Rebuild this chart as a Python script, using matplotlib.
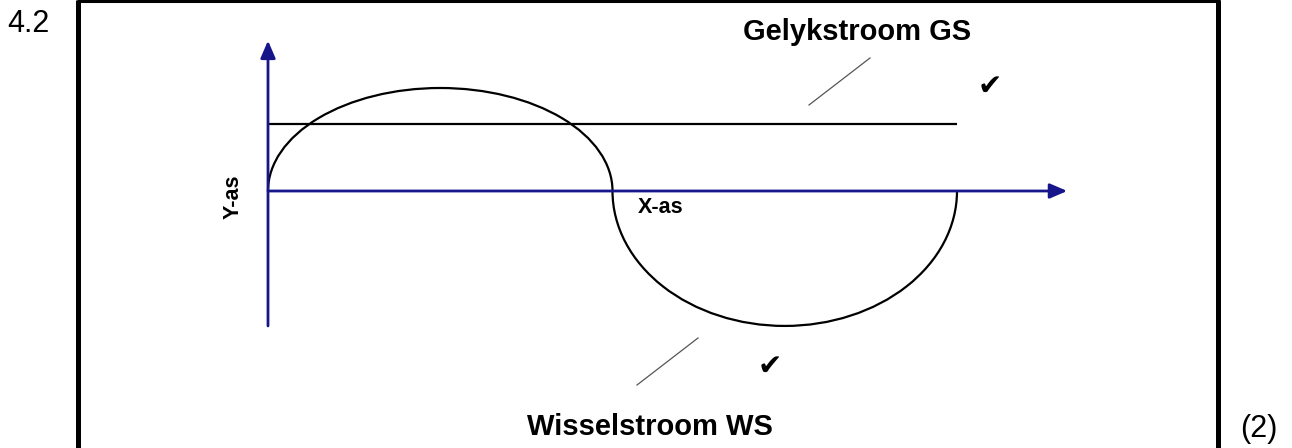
"""
Gelykstroom (GS) vs wisselstroom (WS) sketch, vraag 4.2
"""

import matplotlib
matplotlib.use("Agg")
import matplotlib.pyplot as plt
from matplotlib.patches import Arc
from matplotlib.lines import Line2D

# Data (diagram units: x in half periods, y in relative amplitude)
half_starts = [0.0, 1.0]          # start of each half cycle of the WS curve
half_peaks = [1.0, -1.31]         # peak of each half cycle
dc_level = 0.65                   # GS line
dc_end = 2.0
x_axis_end = 2.32
y_axis_top = 1.46
y_axis_bottom = -1.31

labels = {'dc': 'Gelykstroom GS', 'ac': 'Wisselstroom WS',
          'x': 'X-as', 'y': 'Y-as', 'q': '4.2', 'marks': '(2)'}

W, H, DPI = 1292, 448, 100
X0, Y0 = 268, 191                 # origin in pixels
XU, YU = 344.5, 103.0             # pixels per unit

axis_col = '#16168a'
plt.rcParams['font.family'] = ['Liberation Sans', 'DejaVu Sans']

fig = plt.figure(figsize=(W / DPI, H / DPI), dpi=DPI)
ax = fig.add_axes([0, 0, 1, 1])
ax.set_xlim(-X0 / XU, (W - X0) / XU)
ax.set_ylim((Y0 - H) / YU, Y0 / YU)
ax.axis('off')


def px(x, y):
    """pixel (from top left) -> figure fraction"""
    return x / W, 1 - y / H


# Frame
for (xa, ya), (xb, yb), lw in [((77.5, 0), (77.5, 448), 3.6),
                               ((77, 1.5), (1220, 1.5), 2.2),
                               ((1217.5, 0), (1217.5, 448), 3.6)]:
    (fx0, fy0), (fx1, fy1) = px(xa, ya), px(xb, yb)
    fig.add_artist(Line2D([fx0, fx1], [fy0, fy1], color='black', lw=lw,
                          solid_capstyle='butt', transform=fig.transFigure))

# Axes with arrows
arrow = dict(arrowstyle='-|>,head_length=0.7,head_width=0.3', color=axis_col,
             lw=2, shrinkA=0, shrinkB=0, mutation_scale=15)
ax.annotate('', xy=(x_axis_end, 0), xytext=(0, 0), arrowprops=arrow)
ax.annotate('', xy=(0, y_axis_top), xytext=(0, y_axis_bottom), arrowprops=arrow)

# DC line
ax.hlines(dc_level, 0, dc_end, color='black', lw=1.6)

# AC curve as half ellipses
for start, peak in zip(half_starts, half_peaks):
    t1, t2 = (0, 180) if peak > 0 else (180, 360)
    ax.add_patch(Arc((start + 0.5, 0), 1.0, 2 * abs(peak), theta1=t1, theta2=t2,
                     color='black', lw=1.6))

# Texts
fig.text(*px(7, 32), labels['q'], fontsize=22, va='baseline')
fig.text(*px(1240, 437), labels['marks'], fontsize=22, va='baseline')
fig.text(*px(743, 40), labels['dc'], fontsize=21, fontweight='bold', va='baseline')
fig.text(*px(773, 435), labels['ac'], fontsize=21, fontweight='bold', va='baseline',
         ha='right')
fig.text(*px(638, 213), labels['x'], fontsize=15.5, fontweight='bold', va='baseline')
fig.text(*px(233, 197), labels['y'], fontsize=15.5, fontweight='bold', rotation=90,
         ha='center', va='center')

# Tick marks and pointer strokes
for (cx, cy) in [(990, 87), (770, 367)]:
    fig.text(*px(cx, cy), '\u2714', fontsize=21, family='DejaVu Sans',
             ha='center', va='center')
for (xa, ya), (xb, yb) in [((809, 105), (870, 58)), ((637, 385), (698, 338))]:
    (fx0, fy0), (fx1, fy1) = px(xa, ya), px(xb, yb)
    fig.add_artist(Line2D([fx0, fx1], [fy0, fy1], color='#555555', lw=0.9,
                          transform=fig.transFigure))

fig.savefig('out.png', dpi=DPI)
plt.close(fig)
